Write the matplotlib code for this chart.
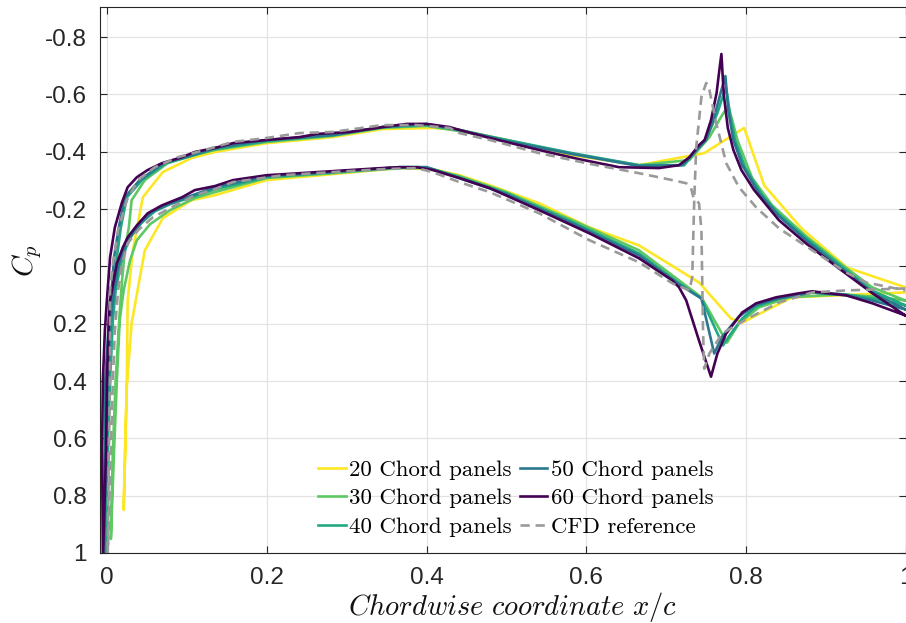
import matplotlib.pyplot as plt

plt.rcParams['mathtext.fontset'] = 'cm'
plt.rcParams['axes.unicode_minus'] = False

# --- pressure distributions, x/c and Cp for each surface (leading edge first) ---
# 20 chord panels
x20_up = [0.021, 0.025, 0.026, 0.0325, 0.045, 0.070, 0.106, 0.135, 0.200, 0.2825, 0.345, 0.4075, 0.441,
          0.500, 0.5825, 0.666, 0.7475, 0.7975, 0.8225, 0.869, 0.926, 0.999]
cp20_up = [0.850, 0.399, 0.119, -0.056, -0.241, -0.329, -0.378, -0.399, -0.430, -0.451, -0.479, -0.483, -0.476,
           -0.441, -0.388, -0.353, -0.395, -0.483, -0.283, -0.133, 0.004, 0.073]
x20_lo = [0.021, 0.025, 0.031, 0.040, 0.0475, 0.070, 0.106, 0.135, 0.200, 0.2825, 0.366, 0.4075, 0.441,
          0.479, 0.541, 0.604, 0.666, 0.741, 0.781, 0.795, 0.8575, 0.916, 0.999]
cp20_lo = [0.850, 0.416, 0.199, 0.059, -0.056, -0.168, -0.231, -0.248, -0.301, -0.322, -0.343, -0.339, -0.318,
           -0.283, -0.220, -0.136, -0.073, 0.056, 0.182, 0.196, 0.108, 0.101, 0.091]

# 30 chord panels
x30_up = [0.005, 0.0075, 0.011, 0.016, 0.019, 0.0225, 0.0275, 0.031, 0.0475, 0.076, 0.104, 0.135, 0.200,
          0.2825, 0.345, 0.400, 0.441, 0.500, 0.5825, 0.666, 0.729, 0.754, 0.770, 0.7775, 0.7825, 0.789,
          0.8075, 0.8325, 0.875, 0.916, 0.9575, 0.999]
cp30_up = [0.951, 0.643, 0.399, 0.164, 0.049, -0.056, -0.136, -0.231, -0.301, -0.360, -0.385, -0.406, -0.434,
           -0.455, -0.483, -0.490, -0.472, -0.441, -0.392, -0.353, -0.371, -0.451, -0.528, -0.559, -0.510, -0.441,
           -0.308, -0.213, -0.105, -0.014, 0.073, 0.119]
x30_lo = [0.005, 0.009, 0.0125, 0.016, 0.021, 0.029, 0.0375, 0.054, 0.079, 0.110, 0.135, 0.200, 0.2825,
          0.366, 0.400, 0.441, 0.500, 0.5825, 0.666, 0.716, 0.744, 0.776, 0.791, 0.816, 0.854, 0.916, 0.9575, 0.999]
cp30_lo = [0.951, 0.643, 0.399, 0.189, 0.084, -0.021, -0.091, -0.147, -0.196, -0.238, -0.259, -0.308, -0.325,
           -0.343, -0.343, -0.315, -0.259, -0.161, -0.056, 0.049, 0.108, 0.266, 0.199, 0.143, 0.108, 0.098, 0.105, 0.119]

# 40 chord panels
x40_up = [-0.001, 0.0, 0.001, 0.006, 0.010, 0.0125, 0.0175, 0.025, 0.044, 0.074, 0.101, 0.135, 0.200,
          0.2825, 0.345, 0.400, 0.441, 0.500, 0.5825, 0.666, 0.7225, 0.751, 0.764, 0.770, 0.775, 0.780,
          0.786, 0.799, 0.820, 0.841, 0.875, 0.916, 0.9575, 0.999]
cp40_up = [1.02, 0.633, 0.399, 0.119, 0.031, -0.031, -0.136, -0.241, -0.301, -0.360, -0.381, -0.409, -0.437,
           -0.458, -0.486, -0.493, -0.476, -0.441, -0.395, -0.353, -0.353, -0.451, -0.535, -0.587, -0.622, -0.528,
           -0.441, -0.343, -0.248, -0.182, -0.098, -0.007, 0.084, 0.136]
x40_lo = [-0.001, 0.001, 0.004, 0.0075, 0.011, 0.0175, 0.024, 0.031, 0.044, 0.060, 0.079, 0.110, 0.135,
          0.200, 0.2825, 0.366, 0.400, 0.441, 0.500, 0.5825, 0.666, 0.716, 0.744, 0.771, 0.780, 0.795,
          0.8125, 0.841, 0.8825, 0.925, 0.9575, 0.999]
cp40_lo = [1.02, 0.643, 0.399, 0.189, 0.084, -0.010, -0.066, -0.108, -0.154, -0.192, -0.217, -0.245, -0.269,
           -0.311, -0.329, -0.346, -0.346, -0.311, -0.255, -0.154, -0.045, 0.059, 0.112, 0.276, 0.238, 0.182,
           0.140, 0.112, 0.091, 0.098, 0.112, 0.136]

# 50 chord panels
x50_up = [-0.004, -0.0025, -0.002, 0.004, 0.006, 0.009, 0.015, 0.0225, 0.041, 0.071, 0.0975, 0.135, 0.200,
          0.2825, 0.345, 0.400, 0.441, 0.500, 0.5825, 0.666, 0.720, 0.750, 0.760, 0.769, 0.774, 0.7775,
          0.784, 0.795, 0.816, 0.841, 0.875, 0.916, 0.9575, 0.999]
cp50_up = [1.02, 0.633, 0.399, 0.119, 0.084, -0.031, -0.136, -0.241, -0.301, -0.360, -0.381, -0.413, -0.441,
           -0.458, -0.486, -0.497, -0.476, -0.437, -0.392, -0.350, -0.353, -0.441, -0.521, -0.615, -0.664, -0.545,
           -0.441, -0.353, -0.255, -0.175, -0.091, 0.0, 0.091, 0.150]
x50_lo = [-0.004, -0.001, 0.001, 0.005, 0.009, 0.015, 0.0225, 0.029, 0.041, 0.056, 0.074, 0.104, 0.135,
          0.200, 0.2825, 0.366, 0.400, 0.441, 0.500, 0.5825, 0.666, 0.716, 0.744, 0.760, 0.770, 0.791,
          0.8125, 0.841, 0.8825, 0.925, 0.9575, 0.999]
cp50_lo = [1.02, 0.643, 0.399, 0.189, 0.084, -0.010, -0.066, -0.101, -0.147, -0.189, -0.213, -0.245, -0.276,
           -0.315, -0.329, -0.346, -0.346, -0.308, -0.252, -0.150, -0.038, 0.063, 0.112, 0.304, 0.245, 0.175,
           0.133, 0.112, 0.091, 0.101, 0.119, 0.150]

# 60 chord panels
x60_up = [-0.005, -0.006, -0.005, -0.0025, 0.0, 0.004, 0.010, 0.019, 0.026, 0.0375, 0.051, 0.069, 0.094,
          0.110, 0.135, 0.158, 0.200, 0.241, 0.263, 0.304, 0.345, 0.375, 0.400, 0.429, 0.441, 0.479, 0.541,
          0.591, 0.641, 0.691, 0.716, 0.729, 0.741, 0.748, 0.756, 0.763, 0.766, 0.769, 0.772, 0.777, 0.784,
          0.794, 0.810, 0.841, 0.875, 0.916, 0.958, 0.999]
cp60_up = [1.03, 0.633, 0.399, 0.224, 0.119, -0.031, -0.136, -0.224, -0.276, -0.311, -0.336, -0.360, -0.381,
           -0.399, -0.413, -0.430, -0.441, -0.451, -0.462, -0.469, -0.486, -0.497, -0.497, -0.486, -0.476, -0.448,
           -0.406, -0.374, -0.346, -0.343, -0.353, -0.381, -0.423, -0.441, -0.510, -0.605, -0.675, -0.741, -0.598,
           -0.483, -0.406, -0.336, -0.266, -0.161, -0.080, 0.007, 0.094, 0.171]
x60_lo = [-0.005, -0.001, 0.0, 0.0025, 0.004, 0.0075, 0.0125, 0.020, 0.026, 0.0375, 0.051, 0.069, 0.094,
          0.110, 0.135, 0.158, 0.200, 0.241, 0.304, 0.345, 0.366, 0.388, 0.408, 0.441, 0.479, 0.541, 0.604,
          0.666, 0.7075, 0.716, 0.725, 0.741, 0.756, 0.764, 0.775, 0.795, 0.8125, 0.8375, 0.866, 0.8825,
          0.925, 0.958, 0.999]
cp60_lo = [1.03, 0.643, 0.409, 0.189, 0.119, 0.066, -0.010, -0.066, -0.101, -0.143, -0.185, -0.213, -0.241,
           -0.266, -0.280, -0.301, -0.318, -0.325, -0.336, -0.343, -0.346, -0.346, -0.336, -0.308, -0.273, -0.196,
           -0.115, -0.028, 0.049, 0.073, 0.119, 0.259, 0.385, 0.304, 0.234, 0.161, 0.129, 0.108, 0.094, 0.087,
           0.101, 0.129, 0.171]

# CFD reference: suction side up to the shock, then jumps to the pressure-side recovery
x_cfd_a = [0.001, 0.0025, 0.004, 0.004, 0.004, 0.0075, 0.014, 0.025, 0.039, 0.060, 0.089, 0.1225, 0.1575,
           0.200, 0.241, 0.2825, 0.345, 0.3875, 0.429, 0.441, 0.479, 0.541, 0.600, 0.666, 0.7075, 0.725,
           0.731, 0.734, 0.741, 0.744, 0.745, 0.746, 0.7475, 0.754, 0.770, 0.800, 0.841, 0.8825, 0.925, 0.999]
cp_cfd_a = [1.02, 0.633, 0.399, 0.224, 0.084, -0.010, -0.126, -0.231, -0.301, -0.346, -0.381, -0.406, -0.434,
            -0.448, -0.465, -0.469, -0.493, -0.493, -0.483, -0.465, -0.441, -0.395, -0.360, -0.325, -0.301, -0.290,
            -0.273, -0.241, -0.220, -0.126, 0.049, 0.224, 0.357, 0.304, 0.234, 0.185, 0.126, 0.091, 0.084, 0.077]
# pressure side up to the shock, then the suction peak and its recovery
x_cfd_b = [0.001, 0.005, 0.0075, 0.010, 0.014, 0.019, 0.026, 0.039, 0.0575, 0.081, 0.110, 0.135, 0.1575,
           0.220, 0.2825, 0.345, 0.3875, 0.4075, 0.441, 0.479, 0.541, 0.604, 0.666, 0.7075, 0.729, 0.7325,
           0.735, 0.7375, 0.744, 0.750, 0.754, 0.7625, 0.775, 0.791, 0.8125, 0.841, 0.879, 0.925, 0.950, 0.999]
cp_cfd_b = [1.02, 0.633, 0.399, 0.224, 0.084, -0.010, -0.080, -0.126, -0.171, -0.206, -0.248, -0.269, -0.294,
            -0.318, -0.329, -0.339, -0.343, -0.329, -0.294, -0.259, -0.185, -0.091, -0.014, 0.059, 0.084, 0.038,
            -0.231, -0.416, -0.591, -0.640, -0.615, -0.500, -0.360, -0.276, -0.206, -0.133, -0.063, 0.021, 0.056,
            0.084]

labels = ['20 Chord panels', '30 Chord panels', '40 Chord panels',
          '50 Chord panels', '60 Chord panels', 'CFD reference']
colors = ['#fde725', '#5ec962', '#22a884', '#2a788e', '#440154']


def closed(x_up, cp_up, x_lo, cp_lo):
    # trailing edge -> lower surface -> leading edge -> upper surface -> trailing edge
    return x_lo[::-1] + x_up[1:], cp_lo[::-1] + cp_up[1:]


panel_sets = [
    (x20_up, cp20_up, x20_lo, cp20_lo),
    (x30_up, cp30_up, x30_lo, cp30_lo),
    (x40_up, cp40_up, x40_lo, cp40_lo),
    (x50_up, cp50_up, x50_lo, cp50_lo),
    (x60_up, cp60_up, x60_lo, cp60_lo),
]

fig = plt.figure(figsize=(9.06, 6.23), dpi=100)
ax = fig.add_axes([0.1109, 0.1124, 0.8891, 0.8764])

for (xu, cu, xl, cl), col, lab in zip(panel_sets, colors, labels):
    xs, cs = closed(xu, cu, xl, cl)
    ax.plot(xs, cs, color=col, lw=1.9, label=lab)

xs, cs = closed(x_cfd_b, cp_cfd_b, x_cfd_a, cp_cfd_a)
ax.plot(xs, cs, color='#9a9a9a', lw=1.9, ls=(0, (3.5, 2.2)), label=labels[5])

ax.set_xlim(-0.008, 1.0)
ax.set_ylim(1.0, -0.905)

xt = [0, 0.2, 0.4, 0.6, 0.8, 1]
yt = [-0.8, -0.6, -0.4, -0.2, 0, 0.2, 0.4, 0.6, 0.8, 1]
ax.set_xticks(xt)
ax.set_xticklabels(['%g' % v for v in xt])
ax.set_yticks(yt)
ax.set_yticklabels(['%g' % v for v in yt])
ax.tick_params(direction='in', length=5, width=0.8, colors='#262626',
               labelsize=17.5, top=True, right=True)
ax.tick_params(axis='x', pad=10)
ax.tick_params(axis='y', pad=10)
for lbl in ax.get_xticklabels() + ax.get_yticklabels():
    lbl.set_fontfamily('Liberation Sans')
for sp in ax.spines.values():
    sp.set_color('#262626')
    sp.set_linewidth(0.8)

ax.grid(True, color='#e3e3e3', lw=0.9)
ax.set_axisbelow(True)

ax.set_xlabel(r'$Chordwise\ coordinate\ x/c$', fontsize=20.5, color='#111111')
ax.xaxis.set_label_coords(0.511, -0.068)
ax.set_ylabel(r'$C_p$', fontsize=21, color='#111111')
ax.yaxis.set_label_coords(-0.07, 0.535)

ax.legend(loc='upper left', bbox_to_anchor=(0.351, 0.262), bbox_transform=fig.transFigure,
          ncol=2, frameon=False, prop={'family': 'cmr10', 'size': 16.5},
          handlelength=1.2, handletextpad=0.15, columnspacing=0.35,
          labelspacing=0.37, borderpad=0, borderaxespad=0)

fig.savefig('out.png', dpi=100)
